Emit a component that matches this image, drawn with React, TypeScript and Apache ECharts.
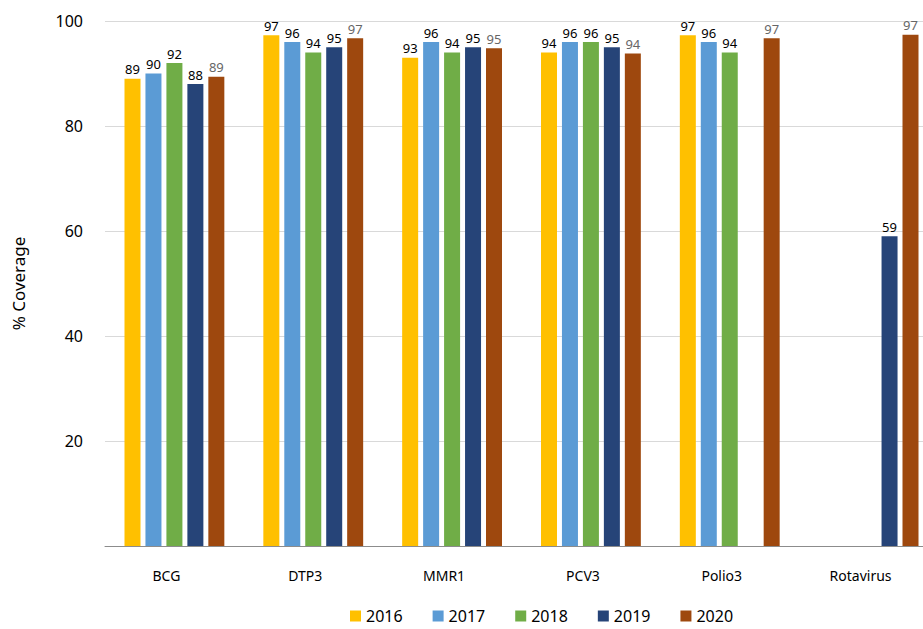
import React, { useEffect, useRef } from "react";
import * as echarts from "echarts";

const categories = ["BCG", "DTP3", "MMR1", "PCV3", "Polio3", "Rotavirus"];
const years = ["2016", "2017", "2018", "2019", "2020"];
const v2016 = [89, 97.3, 93, 94, 97.3, null];
const v2017 = [90, 96, 96, 96, 96, null];
const v2018 = [92, 94, 94, 96, 94, null];
const v2019 = [88, 95, 95, 95, null, 59];
const v2020 = [89.4, 96.7, 94.8, 93.8, 96.7, 97.4];
const colors = ["#FFC000", "#5B9BD5", "#70AD47", "#264478", "#9E480E"];

export default function App() {
  const ref = useRef<HTMLDivElement>(null);
  useEffect(() => {
    const chart = echarts.init(ref.current!, undefined, { renderer: "svg" });
    const all = [v2016, v2017, v2018, v2019, v2020];
    chart.setOption({
      animation: false,
      textStyle: { fontFamily: "Noto Sans" },
      grid: { left: 105, right: 0, top: 21, bottom: 83 },
      legend: {
        bottom: 0,
        left: 345,
        itemWidth: 11,
        itemHeight: 11,
        itemGap: 30,
        icon: "rect",
        textStyle: { fontSize: 16, color: "#000" },
        data: years,
      },
      xAxis: {
        type: "category",
        data: categories,
        axisTick: { show: false },
        axisLine: { lineStyle: { color: "#8c8c8c" } },
        axisLabel: { fontSize: 14, color: "#000", margin: 22, padding: [0, 16, 0, 0] },
      },
      yAxis: {
        type: "value",
        min: 0,
        max: 100,
        interval: 20,
        name: "% Coverage",
        nameLocation: "middle",
        nameGap: 78,
        nameTextStyle: { fontSize: 17, color: "#000" },
        axisLabel: {
          fontSize: 16,
          color: "#000",
          margin: 22,
          formatter: (v: number) => (v === 0 ? "" : String(v)),
        },
        splitLine: { lineStyle: { color: "#d9d9d9" } },
      },
      series: all.map((d, i) => ({
        name: years[i],
        type: "bar",
        data: d,
        barWidth: 16,
        barGap: "31%",
        itemStyle: { color: colors[i] },
        label: {
          show: true,
          position: "top",
          fontSize: 13,
          distance: 3,
          color: i === 4 ? "#666" : "#000",
          formatter: (p: any) => Math.round(p.value),
        },
      })),
    });
    return () => chart.dispose();
  }, []);
  return (
    <div style={{ position: "fixed", left: 0, top: 0, width: 923, height: 629, overflow: "hidden", background: "#fff" }}>
      <div ref={ref} style={{ width: 938, height: 629 }} />
    </div>
  );
}
